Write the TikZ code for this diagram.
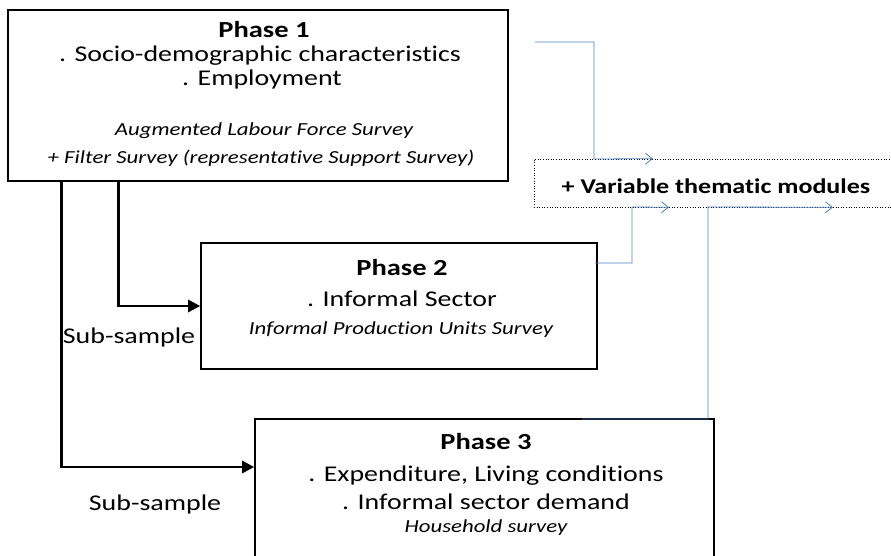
\documentclass[tikz,border=0pt]{standalone}
\usepackage{fontspec}
\setmainfont{Carlito}[FakeStretch=1.24, Ligatures=CommonOff]
\usetikzlibrary{arrows.meta,positioning,calc}
\definecolor{linkblue}{RGB}{79,129,189}

\tikzset{
  phasebox/.style={draw, line width=1.6pt, fill=white, inner sep=0pt},
  phasetitle/.style={font=\fontsize{23}{25}\selectfont\bfseries},
  phaseitem/.style={font=\fontsize{22.5}{24}\selectfont},
  phasesrc/.style={font=\fontsize{18.4}{20}\selectfont\itshape},
  subarrow/.style={line width=2.8pt, -{Triangle[length=12pt,width=12pt]}},
  feed/.style={draw=linkblue, line width=0.8pt, -{Straight Barb[length=7pt,width=11pt]}}
}

\begin{document}
\begin{tikzpicture}[x=1pt, y=-1pt]
\useasboundingbox (0,0) rectangle (891,556);
\begin{scope}
\clip (0,0) rectangle (891,556);

% the three phase boxes
\node[phasebox, minimum width=500pt, minimum height=171pt] (p1) at (258,95.5) {};
\node[phasebox, minimum width=396pt, minimum height=126pt] (p2) at (399,306) {};
\node[phasebox, minimum width=459pt, minimum height=170pt] (p3) at (484.5,504) {};

% thematic modules strip
\node[draw, dotted, line width=0.6pt, minimum width=480pt, minimum height=48pt] (mods) at (774,183) {};
\node[font=\fontsize{21}{24}\selectfont\bfseries] (modtxt) at (716,186) {+ Variable thematic modules};

% Phase 1
\node[phasetitle] (t1) at (264,30) {Phase 1};
\node[phaseitem] (a1) at (260,56) {. Socio-demographic characteristics};
\node[phaseitem] (b1) at (262,80) {. Employment};
\node[phasesrc] (s1) at (264,131) {Augmented Labour Force Survey};
\node[phasesrc] (r1) at (261,158) {+ Filter Survey (representative Support Survey)};

% Phase 2
\node[phasetitle] (t2) at (402,268) {Phase 2};
\node[phaseitem] (a2) at (402,299) {. Informal Sector};
\node[phasesrc] (s2) at (401,330) {Informal Production Units Survey};

% Phase 3
\node[phasetitle] (t3) at (486,442) {Phase 3};
\node[phaseitem] (a3) at (486,476) {. Expenditure, Living conditions};
\node[phaseitem] (b3) at (486,502) {. Informal sector demand};
\node[phasesrc] (s3) at (486,528) {Household survey};

% sub-sample links
\coordinate (in3) at (p3.north west |- 0,467);
\draw[subarrow] ($(p1.south west)+(54,0)$) |- (in3);
\draw[subarrow] ($(p1.south west)+(111,0)$) |- (p2.west);
\node[phaseitem] (sub2) at (129,337) {Sub-sample};
\node[phaseitem] (sub3) at (155,504) {Sub-sample};

% feeds into the thematic modules
\coordinate (f1) at (535,42);
\coordinate (f2) at (595,263);
\coordinate (f3) at (582,419);
\draw[feed] (f1) -| (594,159) -- (mods.north -| 653,0);
\draw[feed] (f2) -| (632,207) -- (mods.south -| 669,0);
\draw[feed] (f3) -| (708,207) -- (mods.south -| 833,0);
\end{scope}
\end{tikzpicture}
\end{document}
